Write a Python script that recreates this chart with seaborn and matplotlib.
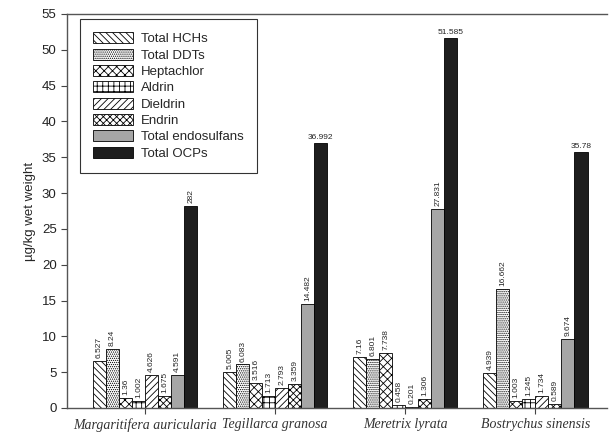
import matplotlib
matplotlib.use("Agg")
import matplotlib.pyplot as plt
import numpy as np
import pandas as pd
import seaborn as sns

# ── data ──────────────────────────────────────────────────────────────────────
species = ["Margaritifera auricularia", "Tegillarca granosa",
           "Meretrix lyrata", "Bostrychus sinensis"]
compounds = ["Total HCHs", "Total DDTs", "Heptachlor", "Aldrin",
             "Dieldrin", "Endrin", "Total endosulfans", "Total OCPs"]

margaritifera = [6.527, 8.24, 1.36, 1.002, 4.626, 1.675, 4.591, 28.2]
tegillarca    = [5.005, 6.083, 3.516, 1.713, 2.793, 3.359, 14.482, 36.992]
meretrix      = [7.16, 6.801, 7.738, 0.458, 0.201, 1.306, 27.831, 51.585]
bostrychus    = [4.939, 16.662, 1.003, 1.245, 1.734, 0.589, 9.674, 35.78]

labels_m = ["6.527", "8.24", "1.36", "1.002", "4.626", "1.675", "4.591", "282"]
labels_t = ["5.005", "6.083", "3.516", "1.713", "2.793", "3.359", "14.482", "36.992"]
labels_r = ["7.16", "6.801", "7.738", "0.458", "0.201", "1.306", "27.831", "51.585"]
labels_b = ["4.939", "16.662", "1.003", "1.245", "1.734", "0.589", "9.674", "35.78"]

values = [margaritifera, tegillarca, meretrix, bostrychus]
labels = [labels_m, labels_t, labels_r, labels_b]

rows = []
for sp, vals in zip(species, values):
    for comp, v in zip(compounds, vals):
        rows.append({"species": sp, "compound": comp, "value": v})
df = pd.DataFrame(rows)

# ── style ─────────────────────────────────────────────────────────────────────
sns.set_style("ticks")
plt.rcParams["font.family"] = ["Liberation Sans", "DejaVu Sans"]
plt.rcParams["hatch.linewidth"] = 0.6

faces   = ["white", "white", "white", "white", "white", "white", "#a6a6a6", "#1e1e1e"]
hatches = ["\\\\\\\\\\", "........", "xxxx", "+++", "/////", "XXXXX", "", ""]

fig = plt.figure(figsize=(6.11, 4.37), dpi=100)
ax = fig.add_axes([0.1097, 0.0664, 0.8838, 0.9016])

sns.barplot(data=df, x="species", y="value", hue="compound",
            order=species, hue_order=compounds, width=0.8,
            ax=ax, legend=False, saturation=1)

for i, cont in enumerate(ax.containers):
    for bar in cont:
        bar.set_facecolor(faces[i])
        bar.set_edgecolor("black")
        bar.set_linewidth(0.6)
        bar.set_hatch(hatches[i])

# value labels
for i, cont in enumerate(ax.containers):
    for j, bar in enumerate(cont):
        x = bar.get_x() + bar.get_width() / 2
        h = bar.get_height()
        txt = labels[j][i]
        if i == 7 and j > 0:
            ax.text(x, h + 0.3, txt, ha="center", va="bottom", fontsize=6)
        else:
            ax.text(x, h + 0.4, txt, ha="center", va="bottom",
                    rotation=90, fontsize=6)

ax.set_xlim(-0.6, 3.55)
ax.set_ylim(0, 55)
ax.set_yticks(np.arange(0, 56, 5))
ax.set_xlabel("")
ax.set_ylabel("µg/kg wet weight", fontsize=9.5)
ax.tick_params(axis="y", labelsize=9.5, length=4, color="#444444", labelcolor="#222222")
ax.tick_params(axis="x", length=4, color="#444444", labelcolor="#333333")
ax.set_xticks(range(len(species)))
ax.set_xticklabels(species, fontsize=10, family="Liberation Serif", style="italic")

for side in ["left", "bottom", "top"]:
    ax.spines[side].set_color("#555555")
    ax.spines[side].set_linewidth(1.0)
ax.spines["right"].set_visible(False)

leg = ax.legend(ax.containers, compounds, loc="upper left",
                bbox_to_anchor=(0.024, 0.987), borderaxespad=0, fontsize=9.5,
                frameon=True, fancybox=False, edgecolor="black",
                handlelength=3.0, handleheight=0.9, labelspacing=0.25,
                borderpad=1.0, handletextpad=0.6)
leg.get_frame().set_linewidth(0.8)

fig.savefig("out.png", dpi=100)
